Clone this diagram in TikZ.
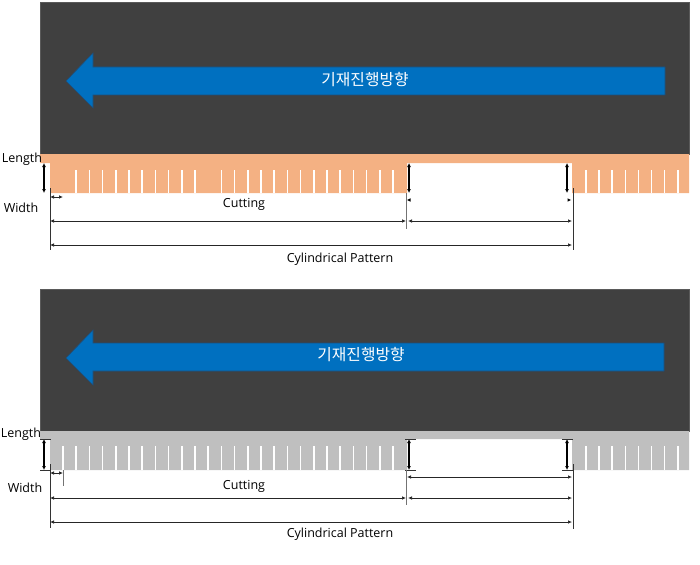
\documentclass[tikz,border=0pt]{standalone}
\usepackage{fontspec}
\setmainfont{Open Sans}
\newfontfamily\krfont{Noto Sans CJK KR}
\usetikzlibrary{arrows.meta}
\definecolor{darkbg}{HTML}{404040}
\definecolor{darkedge}{HTML}{5A5A5A}
\definecolor{bluefill}{HTML}{0070C0}
\definecolor{blueedge}{HTML}{1F4E79}
\definecolor{orangeband}{HTML}{F4B183}
\definecolor{grayband}{HTML}{BFBFBF}
\tikzset{
  panel/.style={fill=darkbg, draw=darkedge, line width=0.8pt},
  bluearrow/.style={fill=bluefill, draw=blueedge, line width=0.6pt},
  tooth/.style={draw=white, line width=1.6pt},
  dimline/.style={draw=black!85, line width=0.7pt, {Latex[length=4pt,width=3.5pt]}-{Latex[length=4pt,width=3.5pt]}},
  vdim/.style={draw=black, line width=1.1pt, {Latex[length=4pt,width=4pt]}-{Latex[length=4pt,width=4pt]}},
  extline/.style={draw=black!80, line width=0.7pt},
  thinext/.style={draw=black!55, line width=0.5pt},
  lbl/.style={font=\fontsize{12.5}{14}\selectfont, text=black, inner sep=0pt},
  krlbl/.style={font=\krfont\fontsize{15.8}{17}\selectfont, text=white, inner sep=0pt},
}
\begin{document}
\begin{tikzpicture}[x=1pt,y=-1pt]
\useasboundingbox (0,0) rectangle (700,564);
% ================= TOP PANEL =================
\draw[panel] (40,2) rectangle (689,154);
\draw[bluearrow] (66,81) -- (93,53) -- (93,67) -- (665,67) -- (665,95) -- (93,95) -- (93,108) -- cycle;
\node[krlbl] (t1) at (365,80) {기재진행방향};
\fill[orangeband] (40,154) -- (689,154) -- (689,193) -- (572,193) -- (572,163) -- (407,163) -- (407,193) -- (50,193) -- (50,163) -- (40,163) -- cycle;
\foreach \k in {1,...,10,12,13,...,25} {
  \draw[tooth] ({63+13.2*\k},170) -- ({63+13.2*\k},193);
}
\foreach \k in {0,...,7} {
  \draw[tooth] ({586+13.1*\k},170) -- ({586+13.1*\k},193);
}
% labels
\node[lbl] (lenA) at (22,159) {Length};
\node[lbl] (widA) at (21,208) {Width};
\node[lbl] (cutA) at (244,204) {Cutting};
\node[lbl] (cylA) at (340,259) {Cylindrical Pattern};
% dimension arrows
\draw[vdim] (44,163) -- (44,193);
\draw[vdim] (409,163) -- (409,193);
\draw[vdim] (567,163) -- (567,193);
\draw[extline] (50,188) -- (50,250);
\draw[extline] (573,188) -- (573,250);
\draw[thinext] (406,193) -- (406,229);
\draw[dimline] (50,197) -- (63,197);
\fill[black] (407,200) -- (410.5,198.3) -- (410.5,201.7) -- cycle;
\fill[black] (571,200) -- (567.5,198.3) -- (567.5,201.7) -- cycle;
\draw[dimline] (50,221) -- (406,221);
\draw[dimline] (408,221) -- (572,221);
\draw[dimline] (50,245) -- (572,245);
% ================= BOTTOM PANEL =================
\draw[panel] (40,289) rectangle (689,431);
\draw[bluearrow] (66,358) -- (93,330) -- (93,343) -- (664,343) -- (664,371) -- (93,371) -- (93,385) -- cycle;
\node[krlbl] (t2) at (361,355) {기재진행방향};
\fill[grayband] (40,431) -- (689,431) -- (689,470) -- (572,470) -- (572,439) -- (407,439) -- (407,470) -- (50,470) -- (50,439) -- (40,439) -- cycle;
\foreach \k in {0,...,25} {
  \draw[tooth] ({63+13.2*\k},446) -- ({63+13.2*\k},470);
}
\foreach \k in {0,...,7} {
  \draw[tooth] ({586+13.1*\k},446) -- ({586+13.1*\k},470);
}
% labels
\node[lbl] (lenB) at (21,434) {Length};
\node[lbl] (widB) at (25,488) {Width};
\node[lbl] (cutB) at (244,486) {Cutting};
\node[lbl] (cylB) at (340,534) {Cylindrical Pattern};
% dimension arrows
\draw[vdim] (44,439) -- (44,470);
\draw[extline] (40,439) -- (51,439);
\draw[extline] (40,470) -- (51,470);
\draw[vdim] (409,439) -- (409,470);
\draw[extline] (405,439) -- (416,439);
\draw[extline] (405,470) -- (416,470);
\draw[vdim] (567,439) -- (567,470);
\draw[extline] (562,439) -- (573,439);
\draw[extline] (562,470) -- (573,470);
\draw[extline] (50,464) -- (50,528);
\draw[extline] (573,464) -- (573,529);
\draw[thinext] (63,470) -- (63,486);
\draw[thinext] (406,470) -- (406,505);
\draw[dimline] (50,473) -- (63,473);
\draw[dimline] (407,477) -- (572,477);
\draw[dimline] (50,498) -- (406,498);
\draw[dimline] (408,498) -- (572,498);
\draw[dimline] (50,522) -- (572,522);
\end{tikzpicture}
\end{document}
